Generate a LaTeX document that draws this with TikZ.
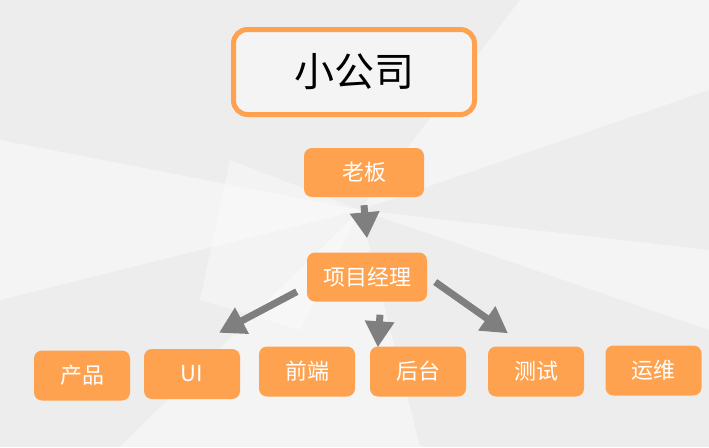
\documentclass[tikz,border=0pt]{standalone}
\usepackage{fontspec}
\setmainfont{Noto Sans CJK SC}
\usetikzlibrary{arrows.meta}
\definecolor{boxorange}{HTML}{FFA24F}
\definecolor{arrowgray}{HTML}{7F7F7F}
\definecolor{bggray}{HTML}{EDEDED}
\definecolor{bglight}{HTML}{F4F4F4}
\begin{document}
\begin{tikzpicture}[x=1pt,y=-1pt,
    rolebox/.style={fill=boxorange,rounded corners=8pt,text=white,
      minimum width=96pt,minimum height=50pt,font=\fontsize{22}{22}\selectfont},
    widebox/.style={rolebox,minimum width=120pt,minimum height=49pt},
    titlebox/.style={draw=boxorange,line width=5pt,fill=bglight,rounded corners=14pt,
      minimum width=241pt,minimum height=85pt,font=\fontsize{40}{40}\selectfont},
    arr/.style={draw=arrowgray,line width=7pt,
      -{Triangle[width=28pt,length=26pt]},arrowgray}]
  % background
  \useasboundingbox (0,0) rectangle (709,447);
  \fill[bggray] (0,0) rectangle (709,447);
  \fill[bglight] (0,140) -- (360,210) -- (0,300) -- cycle;
  \fill[bglight] (360,210) -- (520,0) -- (709,0) -- (709,90) -- cycle;
  \fill[bglight] (360,210) -- (120,447) -- (420,447) -- cycle;
  \fill[bglight] (360,210) -- (709,250) -- (709,330) -- cycle;
  \fill[white,opacity=.35] (230,160) -- (360,210) -- (300,330) -- (200,300) -- cycle;
  % title
  \node[titlebox] (company) at (354,72) {小公司};
  % hierarchy
  \node[widebox] (boss) at (364,172.5) {老板};
  \node[widebox] (pm) at (367,277) {项目经理};
  \node[rolebox] (product) at (82,375.5) {产品};
  \node[rolebox] (ui) at (192,374) {UI};
  \node[rolebox] (front) at (307,371.5) {前端};
  \node[rolebox] (back) at (418,371.5) {后台};
  \node[rolebox] (test) at (536,371.5) {测试};
  \node[rolebox] (ops) at (653.5,370.5) {运维};
  \begin{scope}[arr]
    \draw ([yshift=-8pt]boss.south) -- ([yshift=14pt]pm.north);
    \draw ([xshift=-10pt,yshift=10pt]pm.south west) -- ([xshift=27pt,yshift=16pt]ui.north);
    \draw ([xshift=13pt,yshift=-13pt]pm.south) -- ([xshift=8pt,yshift=-1pt]back.north west);
    \draw ([xshift=8pt,yshift=-5pt]pm.east) -- ([xshift=-28pt,yshift=13pt]test.north);
  \end{scope}
\end{tikzpicture}
\end{document}
